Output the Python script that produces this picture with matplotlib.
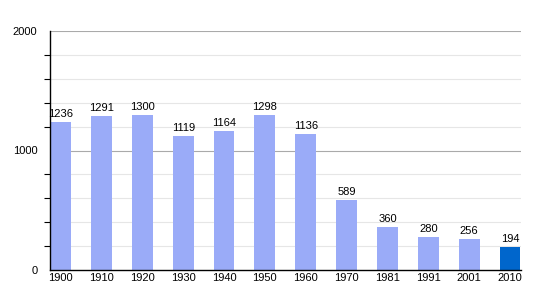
import matplotlib
matplotlib.use("Agg")
import matplotlib.pyplot as plt
import numpy as np

years = ["1900", "1910", "1920", "1930", "1940", "1950", "1960", "1970", "1981", "1991", "2001", "2010"]
population = [1236, 1291, 1300, 1119, 1164, 1298, 1136, 589, 360, 280, 256, 194]

plt.rcParams['font.family'] = ['Liberation Sans', 'DejaVu Sans']
fig = plt.figure(figsize=(5.5, 3.0), dpi=100)
ax = fig.add_axes([50/550, 30/300, 471/550, 239/300])

x = np.arange(len(years))
colors = ['#9aabf8'] * (len(years) - 1) + ['#0066cc']
ax.bar(x, population, width=0.51, color=colors, zorder=3)
for xi, v in zip(x, population):
    ax.text(xi, v + 25, str(v), ha='center', va='bottom', fontsize=8, zorder=4)

ax.set_ylim(0, 2000)
ax.set_xlim(-0.26, 11.27)
ax.set_yticks([0, 1000, 2000])
ax.set_yticks(np.arange(0, 2001, 200), minor=True)
ax.set_xticks(x)
ax.set_xticklabels(years)
ax.tick_params(axis='x', length=0, labelsize=8, pad=2)
ax.tick_params(axis='y', which='major', length=0, labelsize=8, pad=9)
ax.tick_params(axis='y', which='minor', length=4, width=0.8, color='#000000')
for v in np.arange(200, 2001, 200):
    if v % 1000 == 0:
        ax.axhline(v, color='#aaaaaa', lw=0.8, zorder=1)
    else:
        ax.axhline(v, color='#e6e6e6', lw=0.8, zorder=1)
for s in ['top', 'right']:
    ax.spines[s].set_visible(False)
ax.spines['left'].set_linewidth(1.0)
ax.spines['bottom'].set_linewidth(1.0)
ax.spines['left'].set_zorder(5)
ax.spines['bottom'].set_zorder(5)
fig.savefig("out.png", dpi=100)
